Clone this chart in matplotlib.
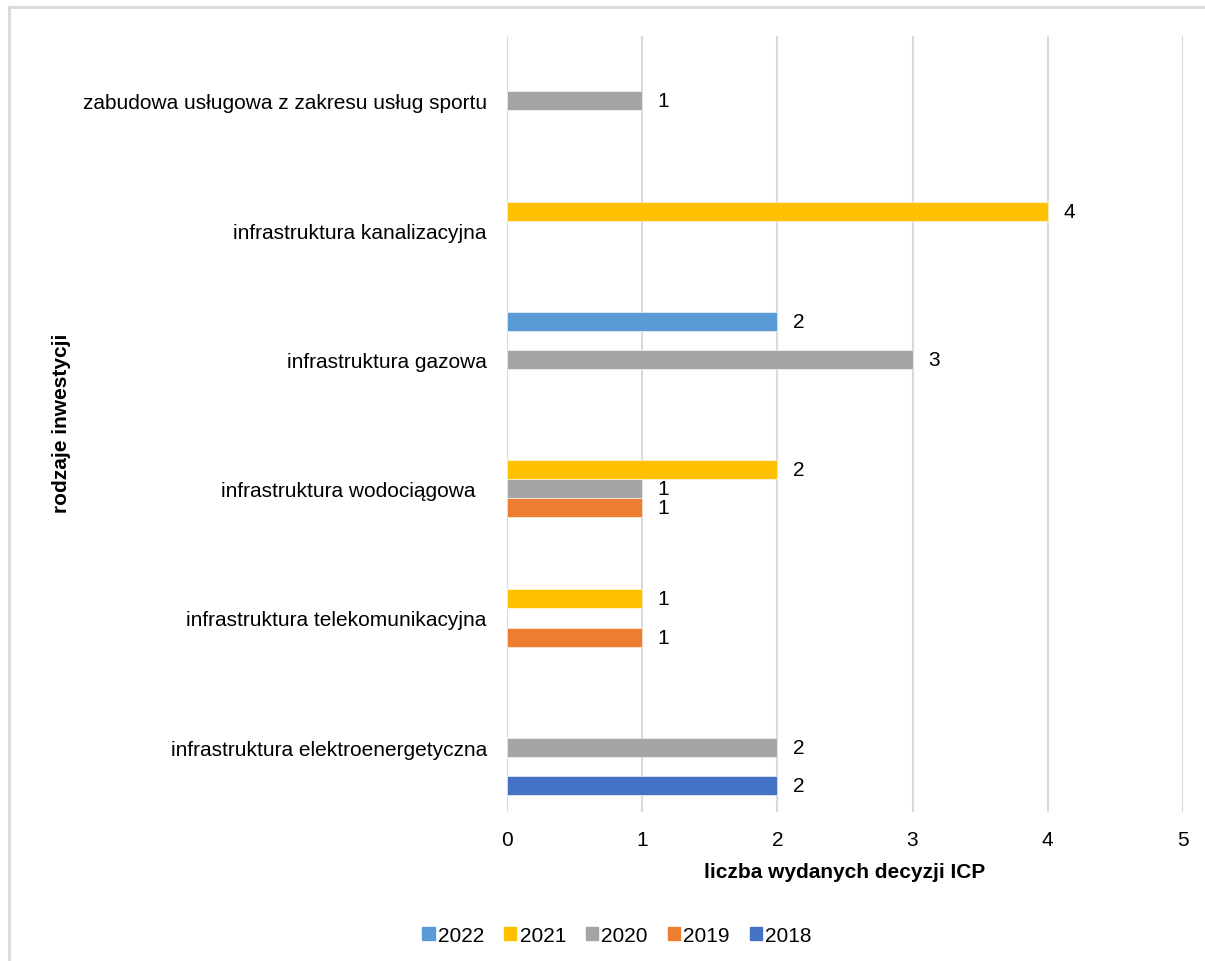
import numpy as np
import matplotlib
matplotlib.use("Agg")
import matplotlib.pyplot as plt
from matplotlib.lines import Line2D
from matplotlib.patches import Patch

plt.rcParams["font.family"] = ["Liberation Sans", "DejaVu Sans"]

# rodzaje inwestycji (od dołu wykresu)
categories = [
    "infrastruktura elektroenergetyczna",
    "infrastruktura telekomunikacyjna",
    "infrastruktura wodociągowa  ",
    "infrastruktura gazowa",
    "infrastruktura kanalizacyjna",
    "zabudowa usługowa z zakresu usług sportu",
]
years = ["2018", "2019", "2020", "2021", "2022"]
v2018 = [2, 0, 0, 0, 0, 0]
v2019 = [0, 1, 1, 0, 0, 0]
v2020 = [2, 0, 1, 3, 0, 1]
v2021 = [0, 1, 2, 0, 4, 0]
v2022 = [0, 0, 0, 2, 0, 0]
series = [v2018, v2019, v2020, v2021, v2022]
colors = ["#4472C4", "#ED7D31", "#A5A5A5", "#FFC000", "#5B9BD5"]

FS = 15

fig = plt.figure(figsize=(12.05, 9.62), dpi=100)
ax = fig.add_axes([0.4207, 0.1549, 0.561, 0.8066])

y = np.arange(len(categories))
h = 0.147
for k, (vals, col) in enumerate(zip(series, colors)):
    pos = y + (k - 2) * h
    for yy, v in zip(pos, vals):
        if v == 0:
            continue
        ax.barh(yy, v, height=h, color=col, edgecolor="white", linewidth=0.4, zorder=3)
        ax.annotate(str(v), (v, yy), xytext=(11, 0), textcoords="offset points",
                    ha="left", va="center", fontsize=FS, color="#000000")

ax.set_xlim(0, 5)
ax.set_ylim(-0.5, len(categories) - 0.5)
ax.set_xticks(range(6))
ax.set_yticks(y)
ax.set_yticklabels(categories)
ax.tick_params(axis="both", length=0, labelsize=FS, colors="#000000")
ax.tick_params(axis="y", pad=14.5)
ax.tick_params(axis="x", pad=13)
ax.grid(axis="x", color="#D9D9D9", linewidth=1.5, zorder=0)
for s in ax.spines.values():
    s.set_visible(False)

ax.set_xlabel("liczba wydanych decyzji ICP", fontsize=FS, fontweight="bold", labelpad=9)
fig.text(0.051, 0.560, "rodzaje inwestycji", rotation=90, fontsize=FS,
         fontweight="bold", ha="center", va="center")

handles = [Patch(color=colors[k]) for k in range(4, -1, -1)]
labels = [years[k] for k in range(4, -1, -1)]
fig.legend(handles, labels, loc="center", bbox_to_anchor=(0.512, 0.027), ncol=5,
           frameon=False, fontsize=FS, handlelength=0.6, handleheight=0.6,
           handletextpad=0.15, columnspacing=0.95)

# ramka wokół wykresu
fig.add_artist(Line2D([0.0075, 0.0075], [0, 0.9917], color="#D9D9D9", linewidth=2,
                      transform=fig.transFigure))
fig.add_artist(Line2D([0.0075, 1], [0.9917, 0.9917], color="#D9D9D9", linewidth=2,
                      transform=fig.transFigure))

fig.savefig("out.png", dpi=100)
